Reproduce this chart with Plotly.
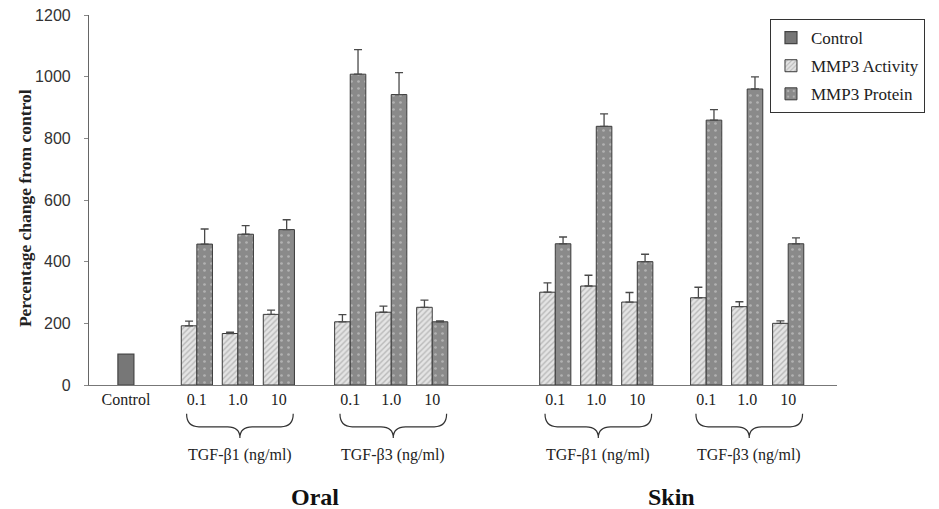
import plotly.graph_objects as go

# ---------------- data ----------------
concentrations = ["0.1", "1.0", "10"]
group_labels = ["TGF-\u03b21 (ng/ml)", "TGF-\u03b23 (ng/ml)", "TGF-\u03b21 (ng/ml)", "TGF-\u03b23 (ng/ml)"]
tissue_labels = ["Oral", "Skin"]

control_value = [100]

oral_b1_activity = [192, 167, 229]
oral_b1_activity_err = [15, 4, 14]
oral_b1_protein = [457, 489, 504]
oral_b1_protein_err = [49, 28, 32]

oral_b3_activity = [205, 236, 252]
oral_b3_activity_err = [23, 20, 23]
oral_b3_protein = [1008, 942, 205]
oral_b3_protein_err = [80, 71, 3]

skin_b1_activity = [301, 321, 269]
skin_b1_activity_err = [30, 35, 31]
skin_b1_protein = [458, 839, 400]
skin_b1_protein_err = [22, 40, 24]

skin_b3_activity = [283, 254, 200]
skin_b3_activity_err = [34, 16, 8]
skin_b3_protein = [859, 960, 458]
skin_b3_protein_err = [34, 39, 19]

# ---------------- layout of slots ----------------
control_pos = 0.9
group_starts = [2.63, 6.37, 11.37, 15.05]
bar_w = 0.38
x_max = 18.24

activity = oral_b1_activity + oral_b3_activity + skin_b1_activity + skin_b3_activity
activity_err = oral_b1_activity_err + oral_b3_activity_err + skin_b1_activity_err + skin_b3_activity_err
protein = oral_b1_protein + oral_b3_protein + skin_b1_protein + skin_b3_protein
protein_err = oral_b1_protein_err + oral_b3_protein_err + skin_b1_protein_err + skin_b3_protein_err

centers = [g + i for g in group_starts for i in range(len(concentrations))]
x_act = [c - bar_w / 2 for c in centers]
x_prot = [c + bar_w / 2 for c in centers]

line_col = "#3a3a3a"
err_style = dict(type="data", symmetric=False, color="#4a4a4a", thickness=1.3, width=4)

fig = go.Figure()
fig.add_trace(go.Bar(
    x=[control_pos], y=control_value, width=[bar_w + 0.01], name="Control",
    legendgroup="c",
    marker=dict(color="#777777", line=dict(color="#444444", width=1.2)),
))
fig.add_trace(go.Bar(
    x=x_act, y=activity, width=[bar_w] * len(x_act), name="MMP3 Activity",
    legendgroup="a",
    marker=dict(color="#e4e4e4", line=dict(color=line_col, width=1),
                pattern=dict(shape="/", bgcolor="#e4e4e4", fgcolor="#8e8e8e",
                             size=4, solidity=0.35)),
    error_y=dict(array=activity_err, arrayminus=[0] * len(activity_err), **err_style),
))
fig.add_trace(go.Bar(
    x=x_prot, y=protein, width=[bar_w] * len(x_prot), name="MMP3 Protein",
    legendgroup="p",
    marker=dict(color="#8a8a8a", line=dict(color=line_col, width=1),
                pattern=dict(shape=".", bgcolor="#8a8a8a", fgcolor="#d8d8d8",
                             size=7, solidity=0.12)),
    error_y=dict(array=protein_err, arrayminus=[0] * len(protein_err), **err_style),
))

# x ticks
tickvals = [control_pos] + centers
ticktext = ["Control"] + concentrations * len(group_starts)

serif = "Liberation Serif, Times New Roman, serif"
sans = "Liberation Sans, Arial, sans-serif"

shapes = []
annotations = []
y_tip, y_h, y_pt = -0.078, -0.113, -0.143
for gi, g in enumerate(group_starts):
    xl = g - 0.25
    xr = g + 2 + 0.35
    xm = (xl + xr) / 2
    d = 0.3
    path = (f"M {xl},{y_tip} Q {xl},{y_h} {xl + d},{y_h} L {xm - d},{y_h} "
            f"Q {xm},{y_h} {xm},{y_pt} Q {xm},{y_h} {xm + d},{y_h} "
            f"L {xr - d},{y_h} Q {xr},{y_h} {xr},{y_tip}")
    shapes.append(dict(type="path", path=path, xref="x", yref="paper",
                       line=dict(color="#333333", width=1.2)))
    annotations.append(dict(x=xm, y=-0.189, xref="x", yref="paper", text=group_labels[gi],
                            showarrow=False, font=dict(family=serif, size=16, color="#222222"),
                            xanchor="center", yanchor="middle"))

for ti, name in enumerate(tissue_labels):
    g0 = group_starts[2 * ti] + 1
    g1 = group_starts[2 * ti + 1] + 1
    annotations.append(dict(x=(g0 + g1) / 2, y=-0.303, xref="x", yref="paper",
                            text=f"<b>{name}</b>", showarrow=False,
                            font=dict(family=serif, size=24, color="#111111"),
                            xanchor="center", yanchor="middle"))

annotations.append(dict(x=-0.0856, y=0.478, xref="paper", yref="paper",
                        text="<b>Percentage change from control</b>", textangle=-90,
                        showarrow=False, font=dict(family=serif, size=17.5, color="#222222"),
                        xanchor="center", yanchor="middle"))

fig.update_layout(
    width=939, height=509,
    margin=dict(l=89, r=102, t=15, b=124, autoexpand=False),
    paper_bgcolor="white", plot_bgcolor="white",
    barmode="overlay",
    showlegend=True,
    legend=dict(x=0.9104, y=0.989, xanchor="left", yanchor="top",
                bordercolor="#333333", borderwidth=1, bgcolor="white",
                font=dict(family=serif, size=17, color="#222222"),
                tracegroupgap=3, itemwidth=30),
    xaxis=dict(range=[0, x_max], showline=True, linecolor="#777777", linewidth=1.2,
               showgrid=False, zeroline=False, tickvals=tickvals, ticktext=ticktext,
               ticks="", tickfont=dict(family=serif, size=16, color="#222222")),
    yaxis=dict(range=[0, 1200], showline=True, linecolor="#666666", linewidth=1.2,
               showgrid=False, zeroline=False, tickvals=[0, 200, 400, 600, 800, 1000, 1200],
               ticks="outside", ticklen=4, tickcolor="#888888",
               ticklabelstandoff=10,
               tickfont=dict(family=sans, size=16, color="#333333")),
    shapes=shapes,
    annotations=annotations,
)

fig.write_html("out.html", config={"displayModeBar": False},
               post_script="document.body.style.margin='0';document.body.style.overflow='hidden';")
